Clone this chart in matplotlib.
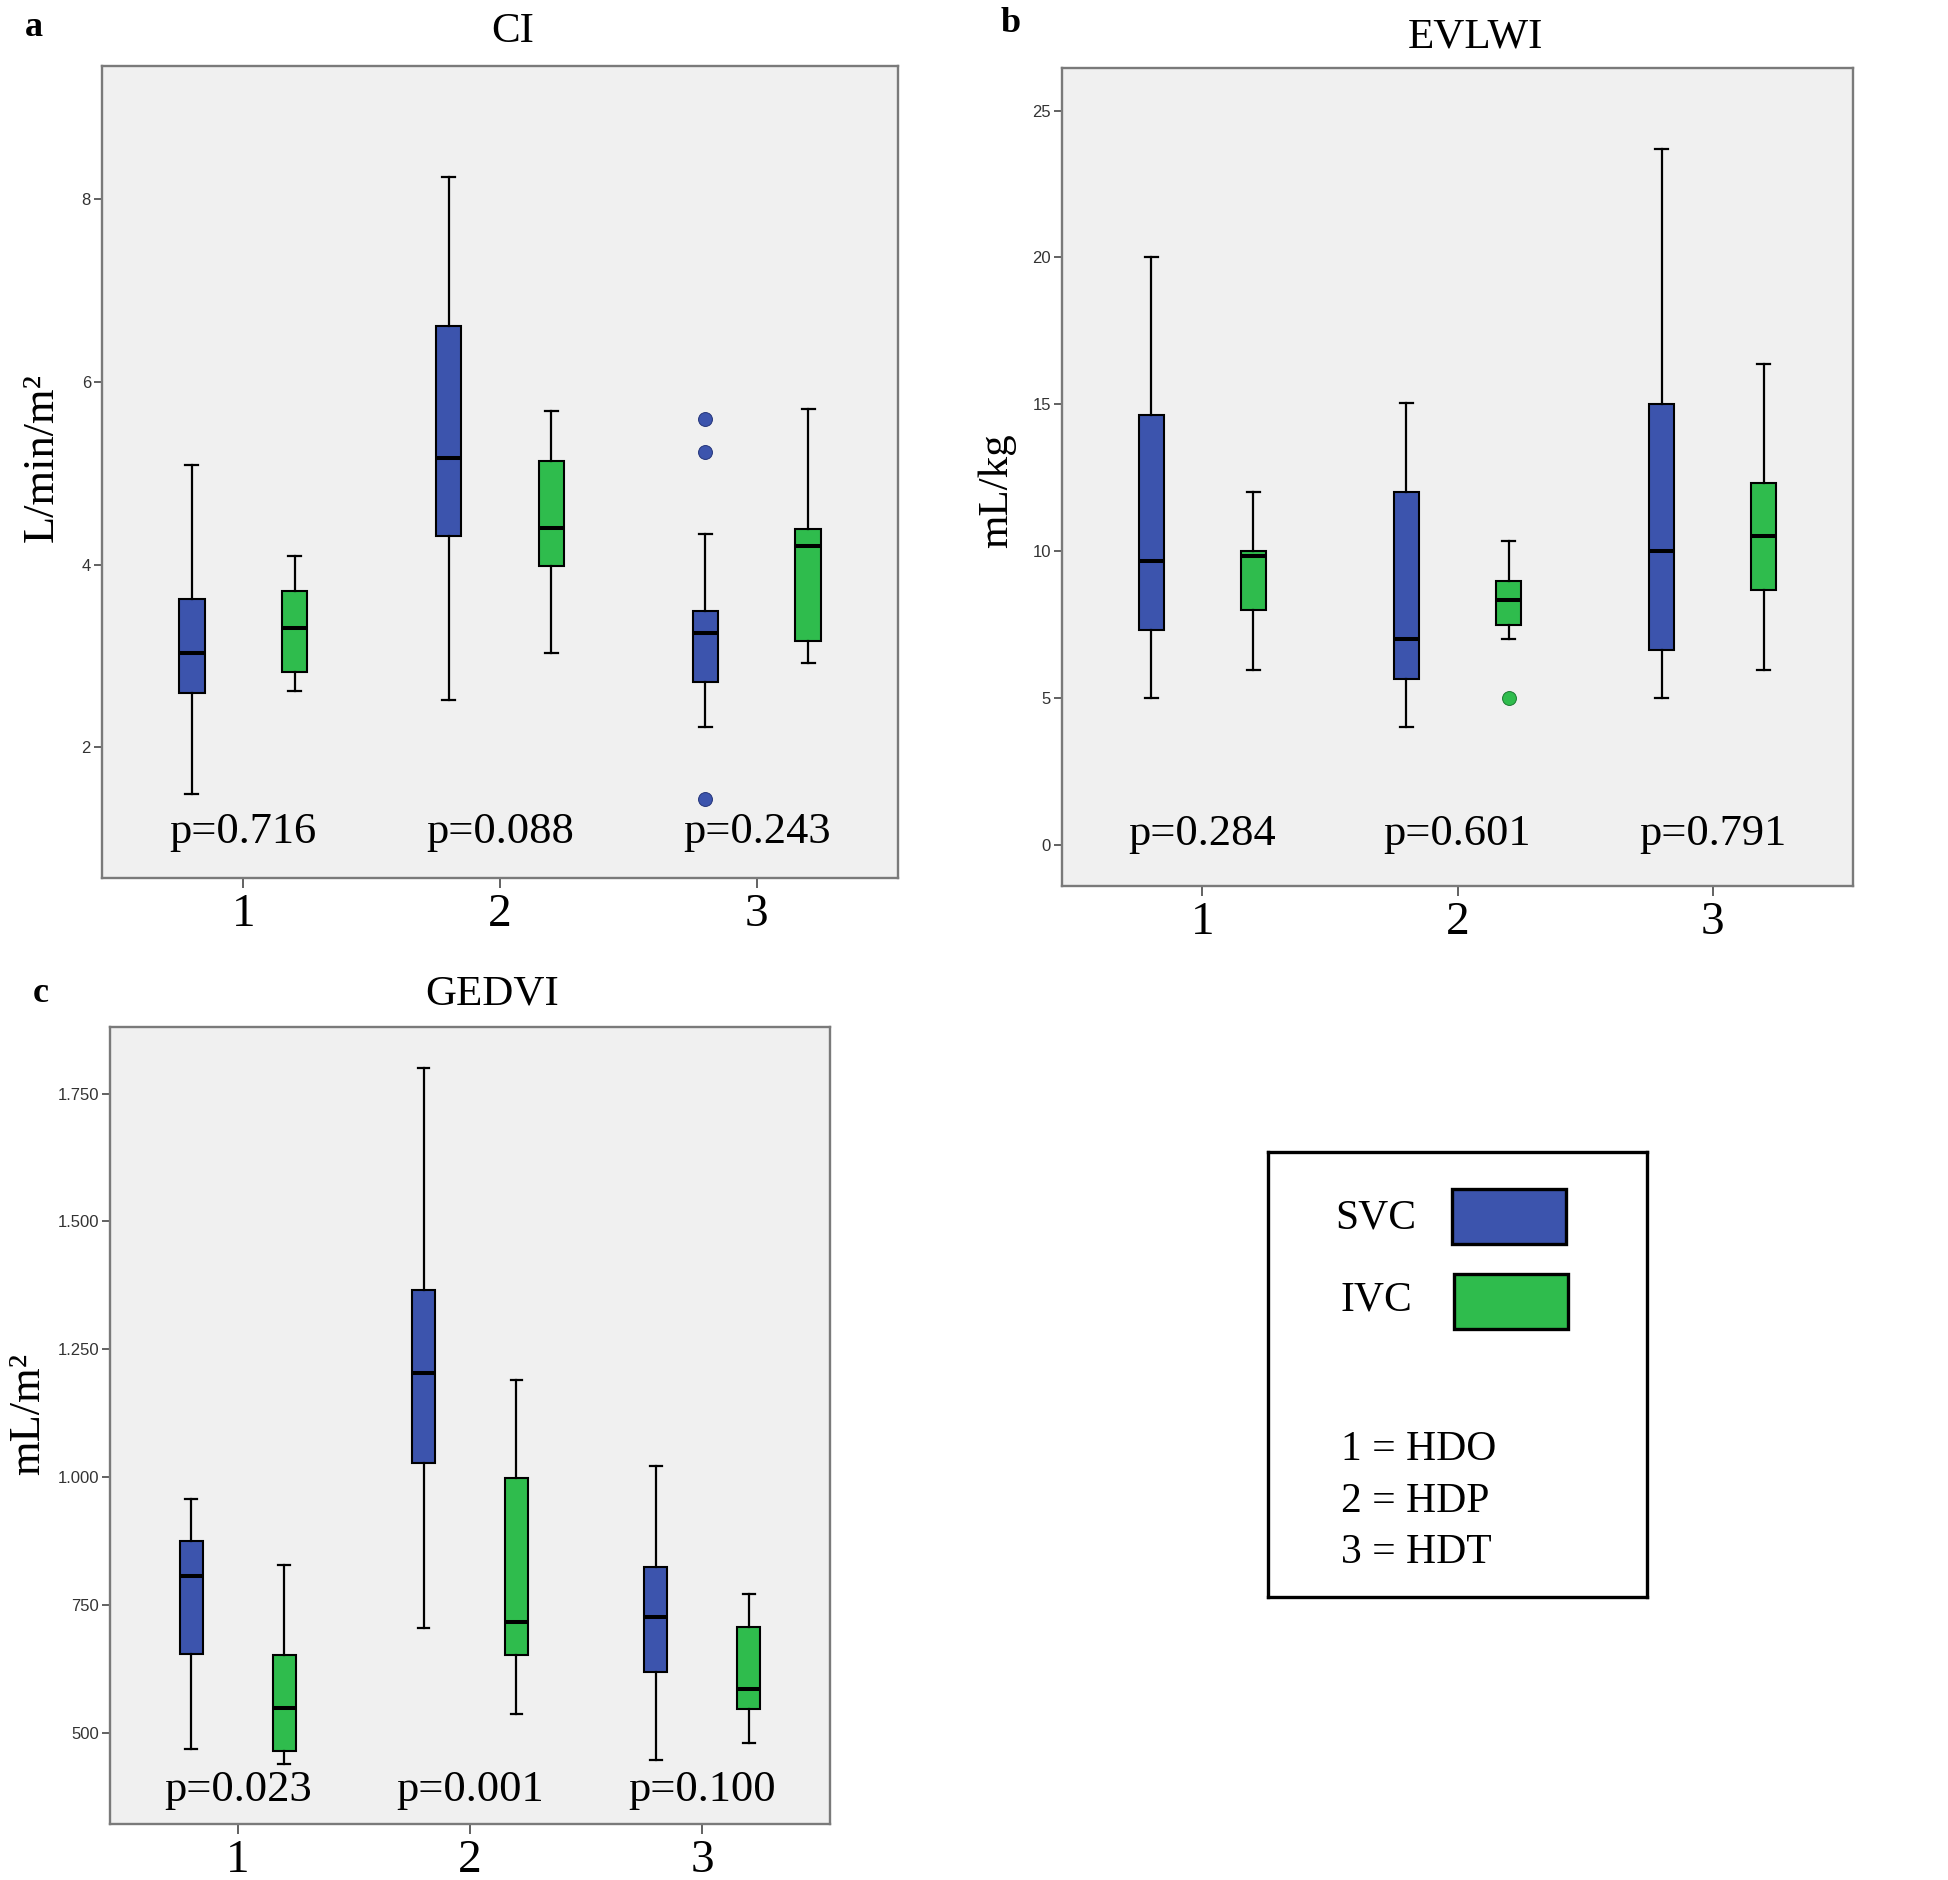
import matplotlib
matplotlib.use('Agg')
import matplotlib.pyplot as plt
from matplotlib.patches import Rectangle

# ---------------- data ----------------
groups = [1, 2, 3]
group_labels = ['1', '2', '3']
series = ['SVC', 'IVC']
legend_lines = ['1 = HDO', '2 = HDP', '3 = HDT']

# five-number summaries per group: [whisker low, Q1, median, Q3, whisker high]
ci_svc = [[1.49, 2.60, 3.03, 3.62, 5.09], [2.52, 4.31, 5.17, 6.61, 8.25], [2.22, 2.72, 3.25, 3.49, 4.34]]
ci_ivc = [[2.62, 2.83, 3.31, 3.71, 4.09], [3.03, 3.99, 4.40, 5.13, 5.68], [2.92, 3.17, 4.20, 4.39, 5.70]]
ci_svc_out = [[], [], [5.60, 5.23, 1.44]]
ci_ivc_out = [[], [], []]
ci_p = ['p=0.716', 'p=0.088', 'p=0.243']
ci_yticks = [2, 4, 6, 8]

evlwi_svc = [[5.0, 7.31, 9.65, 14.65, 20.0], [4.0, 5.66, 7.0, 12.0, 15.06], [5.0, 6.65, 10.0, 15.0, 23.7]]
evlwi_ivc = [[5.97, 7.98, 9.85, 10.0, 12.0], [7.0, 7.48, 8.35, 8.99, 10.35], [5.97, 8.68, 10.5, 12.33, 16.36]]
evlwi_svc_out = [[], [], []]
evlwi_ivc_out = [[], [5.0], []]
evlwi_p = ['p=0.284', 'p=0.601', 'p=0.791']
evlwi_yticks = [0, 5, 10, 15, 20, 25]

gedvi_svc = [[469, 655, 806, 875, 958], [705, 1028, 1204, 1366, 1799], [448, 620, 726, 825, 1022]]
gedvi_ivc = [[440, 465, 549, 652, 829], [538, 653, 717, 999, 1189], [480, 546, 586, 707, 772]]
gedvi_svc_out = [[], [], []]
gedvi_ivc_out = [[], [], []]
gedvi_p = ['p=0.023', 'p=0.001', 'p=0.100']
gedvi_yticks = [500, 750, 1000, 1250, 1500, 1750]
gedvi_yticklabels = ['500', '750', '1.000', '1.250', '1.500', '1.750']

# ---------------- style ----------------
colors = {'SVC': '#3c54ad', 'IVC': '#2fbc4d'}
flier_edge = {'SVC': '#24357a', 'IVC': '#1c7a32'}
SERIF = ['Liberation Serif', 'DejaVu Serif']
SANS = ['Liberation Sans', 'DejaVu Sans']

W, H = 1949, 1880
fig = plt.figure(figsize=(W / 100, H / 100), dpi=100)
fig.patch.set_facecolor('white')


def fx(x):
    return x / W


def fy(y):
    return 1 - y / H


def panel(rect_px, svc, ivc, svc_out, ivc_out, ylim, yticks, yticklabels, pvals, p_base):
    l, t, r, b = rect_px
    ax = fig.add_axes([l / W, 1 - b / H, (r - l) / W, (b - t) / H])
    ax.set_facecolor('#f0f0f0')
    for name, data, outs, off in [('SVC', svc, svc_out, -0.2), ('IVC', ivc, ivc_out, 0.2)]:
        stats = [dict(whislo=d[0], q1=d[1], med=d[2], q3=d[3], whishi=d[4], fliers=o)
                 for d, o in zip(data, outs)]
        ax.bxp(stats, positions=[g + off for g in groups], widths=0.1, capwidths=0.05,
               patch_artist=True, showfliers=True, manage_ticks=False,
               boxprops=dict(facecolor=colors[name], edgecolor='black', linewidth=1.5),
               medianprops=dict(color='black', linewidth=2.9, solid_capstyle='butt'),
               whiskerprops=dict(color='black', linewidth=1.6),
               capprops=dict(color='black', linewidth=1.6),
               flierprops=dict(marker='o', markerfacecolor=colors[name],
                               markeredgecolor=flier_edge[name], markersize=10,
                               markeredgewidth=0.7, linestyle='none'))
    ax.set_xlim(0.45, 3.55)
    ax.set_ylim(*ylim)
    ax.set_xticks(groups)
    ax.set_xticklabels(group_labels, fontfamily=SERIF, fontsize=34)
    ax.set_yticks(yticks)
    ax.set_yticklabels(yticklabels, fontfamily=SANS, fontsize=12, color='#333333')
    ax.tick_params(axis='y', length=6, width=1.3, color='#555555', pad=2)
    ax.tick_params(axis='x', length=7, width=1.3, color='#555555', pad=4)
    for s in ax.spines.values():
        s.set_color('#7a7a7a')
        s.set_linewidth(1.7)
    for g, p in zip(groups, pvals):
        ax.text(g, p_base, p, ha='center', va='baseline', fontfamily=SERIF, fontsize=32)
    return ax


# panel a
panel((102, 66, 898, 878), ci_svc, ci_ivc, ci_svc_out, ci_ivc_out, (0.57, 9.46),
      ci_yticks, [str(v) for v in ci_yticks], ci_p, 0.95)
fig.text(fx(513), fy(32), 'CI', ha='center', va='center', fontfamily=SERIF, fontsize=31)
fig.text(fx(34), fy(28), 'a', ha='center', va='center', fontfamily=SERIF, fontsize=26, fontweight='bold')
fig.text(fx(42), fy(458), 'L/min/m²', ha='center', va='center', rotation=90, fontfamily=SERIF, fontsize=32)

# panel b
panel((1062, 68, 1853, 886), evlwi_svc, evlwi_ivc, evlwi_svc_out, evlwi_ivc_out, (-1.4, 26.45),
      evlwi_yticks, [str(v) for v in evlwi_yticks], evlwi_p, 0.0)
fig.text(fx(1475), fy(37), 'EVLWI', ha='center', va='center', fontfamily=SERIF, fontsize=31)
fig.text(fx(1011), fy(24), 'b', ha='center', va='center', fontfamily=SERIF, fontsize=26, fontweight='bold')
fig.text(fx(997), fy(491), 'mL/kg', ha='center', va='center', rotation=90, fontfamily=SERIF, fontsize=31)

# panel c
panel((110, 1027, 830, 1824), gedvi_svc, gedvi_ivc, gedvi_svc_out, gedvi_ivc_out, (322, 1880),
      gedvi_yticks, gedvi_yticklabels, gedvi_p, 366)
fig.text(fx(492), fy(994), 'GEDVI', ha='center', va='center', fontfamily=SERIF, fontsize=31)
fig.text(fx(41), fy(993), 'c', ha='center', va='center', fontfamily=SERIF, fontsize=26, fontweight='bold')
fig.text(fx(28), fy(1414), 'mL/m²', ha='center', va='center', rotation=90, fontfamily=SERIF, fontsize=32)

# legend box
ll, lt, lr, lb = 1268, 1152, 1647, 1597
lax = fig.add_axes([ll / W, 1 - lb / H, (lr - ll) / W, (lb - lt) / H])
lax.set_xlim(0, 1)
lax.set_ylim(0, 1)
lax.set_xticks([])
lax.set_yticks([])
for s in lax.spines.values():
    s.set_color('black')
    s.set_linewidth(2.4)
text_x = [0.177, 0.19]
text_y = [0.852, 0.667]
rect_x = [0.4855, 0.4908]
rect_y = [0.793, 0.602]
for name, tx, ty, rx, ry in zip(series, text_x, text_y, rect_x, rect_y):
    lax.text(tx, ty, name, ha='left', va='center', fontfamily=SERIF, fontsize=30)
    lax.add_patch(Rectangle((rx, ry), 0.3008, 0.1236, facecolor=colors[name],
                            edgecolor='black', linewidth=2.4))
for line, y in zip(legend_lines, [0.330, 0.213, 0.099]):
    lax.text(0.193, y, line, ha='left', va='center', fontfamily=SERIF, fontsize=30)

fig.savefig('out.png', dpi=100, facecolor='white')
